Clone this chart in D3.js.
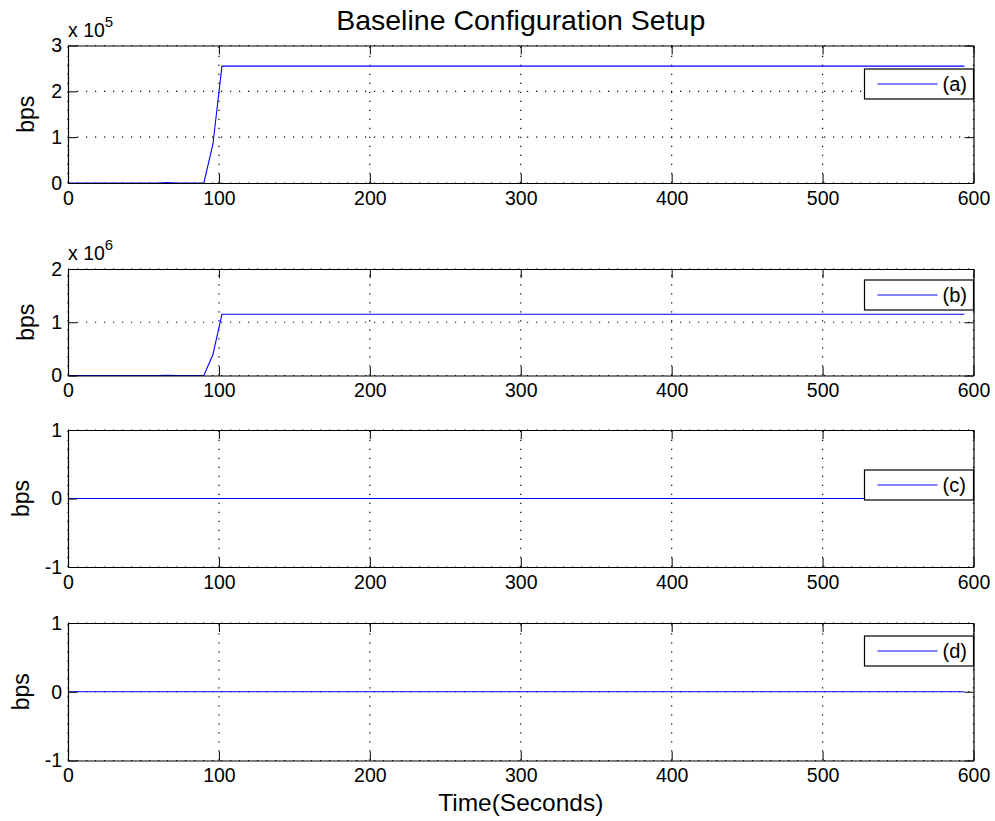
<!DOCTYPE html>
<html>
<head>
<meta charset="utf-8">
<script src="https://cdn.jsdelivr.net/npm/d3@7/dist/d3.min.js"></script>
<style>
  html, body { margin: 0; padding: 0; background: #fff; }
  svg { display: block; }
  text { font-family: "Liberation Sans", Arial, Helvetica, sans-serif; fill: #000; }
</style>
</head>
<body>
<svg id="chart" width="995" height="821"></svg>
<script>
// Throughput samples (seconds, bits per second) for the four monitored links
const timeA = [0, 60, 66, 72, 90, 96, 102, 594];
const rateA = [0, 0, 800, 0, 0, 84000, 255000, 255000];

const timeB = [0, 60, 66, 72, 90, 96, 102, 594];
const rateB = [0, 0, 5000, 0, 0, 390000, 1150000, 1150000];

const timeC = [0, 594];
const rateC = [0, 0];

const timeD = [0, 594];
const rateD = [0, 0];

const seriesLabels = ["(a)", "(b)", "(c)", "(d)"];

// Axis ranges and tick values
const xDomain = [0, 600];
const xTickValues = [0, 100, 200, 300, 400, 500, 600];
const yDomains = [[0, 3e5], [0, 2e6], [-1, 1], [-1, 1]];
const yTickValues = [[0, 1e5, 2e5, 3e5], [0, 1e6, 2e6], [-1, 0, 1], [-1, 0, 1]];
const yExponents = [5, 6, null, null];

const titleText = "Baseline Configuration Setup";
const xLabelText = "Time(Seconds)";
const yLabelText = "bps";

// Layout
const left = 68, right = 973.5;
const layout = [
  { top: 45.5, bottom: 183,   legendTop: 69,  yLabelX: 34 },
  { top: 269,  bottom: 375.5, legendTop: 280, yLabelX: 34 },
  { top: 430,  bottom: 567,   legendTop: 470, yLabelX: 29 },
  { top: 623,  bottom: 760.5, legendTop: 636, yLabelX: 29 }
];
const seriesData = [[timeA, rateA], [timeB, rateB], [timeC, rateC], [timeD, rateD]];

const svg = d3.select("#chart");
const tickLen = 9;
const blue = "#0000ff";

const x = d3.scaleLinear().domain(xDomain).range([left, right]);

seriesData.forEach(([times, rates], i) => {
  const L = layout[i];
  const y = d3.scaleLinear().domain(yDomains[i]).range([L.bottom, L.top]);
  const g = svg.append("g");
  const exp = yExponents[i];
  const fmt = d => exp === null ? String(d) : String(Math.round(d / Math.pow(10, exp)));

  // dotted grid
  const grid = g.append("g")
    .attr("stroke", "#000").attr("stroke-width", 1.2)
    .attr("stroke-dasharray", "1.2,7.8").attr("fill", "none");
  grid.selectAll("line.v").data(xTickValues).join("line")
    .attr("class", "v")
    .attr("x1", d => x(d)).attr("x2", d => x(d))
    .attr("y1", L.bottom).attr("y2", L.top);
  grid.selectAll("line.h").data(yTickValues[i]).join("line")
    .attr("class", "h")
    .attr("x1", left).attr("x2", right)
    .attr("y1", d => y(d)).attr("y2", d => y(d));

  // data line
  const pts = times.map((t, k) => [t, rates[k]]);
  g.append("path")
    .datum(pts)
    .attr("fill", "none")
    .attr("stroke", blue)
    .attr("stroke-width", 1.1)
    .attr("d", d3.line().x(d => x(d[0])).y(d => y(d[1])));

  // axes with inward ticks
  const axBottom = g.append("g").attr("transform", `translate(0,${L.bottom})`)
    .call(d3.axisBottom(x).tickValues(xTickValues).tickSizeInner(-tickLen).tickSizeOuter(0).tickPadding(8).tickFormat(d3.format("d")));
  const axTop = g.append("g").attr("transform", `translate(0,${L.top})`)
    .call(d3.axisTop(x).tickValues(xTickValues).tickSizeInner(-tickLen).tickSizeOuter(0).tickFormat(""));
  const axLeft = g.append("g").attr("transform", `translate(${left},0)`)
    .call(d3.axisLeft(y).tickValues(yTickValues[i]).tickSizeInner(-tickLen).tickSizeOuter(0).tickPadding(6).tickFormat(fmt));
  const axRight = g.append("g").attr("transform", `translate(${right},0)`)
    .call(d3.axisRight(y).tickValues(yTickValues[i]).tickSizeInner(-tickLen).tickSizeOuter(0).tickFormat(""));

  [axBottom, axTop, axLeft, axRight].forEach(a => {
    a.select(".domain").attr("stroke", "#000").attr("stroke-width", 1.2);
    a.selectAll(".tick line").attr("stroke", "#000").attr("stroke-width", 1);
    a.selectAll(".tick text").attr("font-size", 19.5).attr("font-family", null).attr("fill", "#000");
  });

  // exponent label
  if (exp !== null) {
    const t = g.append("text").attr("x", left).attr("y", L.top - 9).attr("font-size", 19.5);
    t.append("tspan").text("x 10");
    t.append("tspan").attr("dy", -10).attr("font-size", 15).text(String(exp));
  }

  // y label
  g.append("text")
    .attr("transform", `translate(${L.yLabelX},${(L.top + L.bottom) / 2}) rotate(-90)`)
    .attr("text-anchor", "middle")
    .attr("font-size", 23)
    .text(yLabelText);

  // legend
  const lg = g.append("g").attr("transform", `translate(0,${L.legendTop})`);
  const boxW = 109, boxH = 30;
  lg.append("rect")
    .attr("x", right - boxW).attr("y", 0).attr("width", boxW).attr("height", boxH)
    .attr("fill", "#fff").attr("stroke", "#000").attr("stroke-width", 1.2);
  lg.append("line")
    .attr("x1", right - boxW + 13).attr("x2", right - boxW + 73)
    .attr("y1", boxH / 2).attr("y2", boxH / 2)
    .attr("stroke", blue).attr("stroke-width", 1.1);
  lg.append("text")
    .attr("x", right - boxW + 78).attr("y", boxH / 2).attr("dy", "0.35em")
    .attr("font-size", 20)
    .text(seriesLabels[i]);
});

// title and x label
svg.append("text")
  .attr("x", (left + right) / 2).attr("y", 30)
  .attr("text-anchor", "middle").attr("font-size", 28.5)
  .text(titleText);

svg.append("text")
  .attr("x", (left + right) / 2).attr("y", 811)
  .attr("text-anchor", "middle").attr("font-size", 24.5)
  .text(xLabelText);
</script>
</body>
</html>
